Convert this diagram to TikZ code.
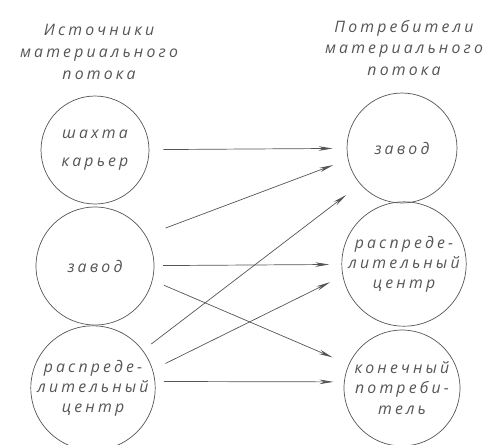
\documentclass[tikz,border=0pt]{standalone}
\usepackage{fontspec}
\newfontfamily\hand[LetterSpace=20]{Open Sans}
\usepackage{tikz}
\usetikzlibrary{arrows.meta, positioning}
\definecolor{pencil}{RGB}{85,85,85}
\tikzset{every node/.append style={align=center}}
\tikzset{
  ist/.style={circle, draw=pencil, thin, minimum size=2.3cm, inner sep=0pt,
    text=pencil, font=\hand\itshape\fontsize{9}{11.5}\selectfont},
  ttl/.style={text=pencil, font=\hand\itshape\fontsize{9}{12.5}\selectfont},
  arrow/.style={-{Stealth[length=8pt,width=2.6pt]}, thin, pencil}
}

\begin{document}
\begin{tikzpicture}[x=0.02cm, y=-0.02cm]
  \useasboundingbox (0,0) rectangle (486,444);
  % titles
  \node[ttl] (tsrc) at (99,52) {Источники\\материального\\потока};
  \node[ttl] (tdst) at (404,48) {Потребители\\материального\\потока};
  % sources
  \node[ist, minimum size=2.16cm] (s1) at (95,150) {шахта\\[4pt]карьер};
  \node[ist, minimum size=2.36cm] (s2) at (95,266) {завод};
  \node[ist, minimum size=2.28cm] (s3) at (93,388) {распреде-\\лительный\\центр};
  % consumers
  \node[ist, minimum size=2.2cm] (d1) at (402,148) {завод};
  \node[ist, minimum size=2.36cm] (d2) at (404,264) {распреде-\\лительный\\центр};
  \node[ist, minimum size=2.32cm] (d3) at (402,388) {конечный\\потреби-\\тель};
  % flows
  \draw[arrow, shorten <=8pt, shorten >=8pt] (s1) -- (d1);
  \draw[arrow, shorten <=12pt, shorten >=9pt] (s2.31) -- (d1.192);
  \draw[arrow, shorten <=6pt, shorten >=10pt] (s3.37) -- (d1.221);
  \draw[arrow, shorten <=5pt, shorten >=7pt] (s2) -- (d2);
  \draw[arrow, shorten <=7pt, shorten >=10pt] (s2.346) -- (d3.156);
  \draw[arrow, shorten <=8pt, shorten >=8pt] (s3.17) -- (d2.191);
  \draw[arrow, shorten <=5pt, shorten >=6pt] (s3.6) -- (d3.174);
\end{tikzpicture}
\end{document}
